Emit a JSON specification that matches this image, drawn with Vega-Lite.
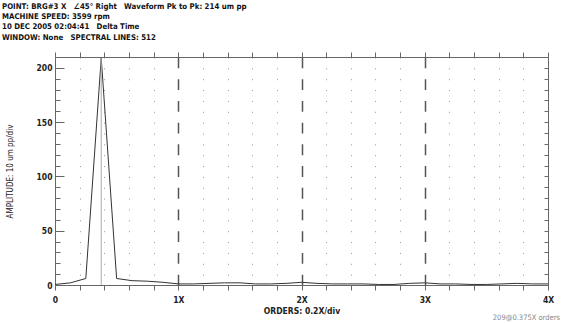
{
  "$schema": "https://vega.github.io/schema/vega-lite/v6.json",
  "width": 493,
  "height": 228,
  "autosize": "none",
  "padding": {"left": 55, "top": 57, "right": 14, "bottom": 38},
  "background": "white",
  "config": {"font": "DejaVu Sans Condensed, Liberation Sans, sans-serif", "view": {"stroke": null}},
  "title": {
    "text": [
      "POINT: BRG#3 X\u00a0\u00a0\u00a0∠45° Right\u00a0\u00a0\u00a0Waveform Pk to Pk: 214 um pp",
      "MACHINE SPEED: 3599 rpm",
      "10 DEC 2005 02:04:41\u00a0\u00a0\u00a0Delta Time",
      "WINDOW: None\u00a0\u00a0\u00a0SPECTRAL LINES: 512"
    ],
    "anchor": "start",
    "frame": "group",
    "dx": -53,
    "offset": 10,
    "fontSize": 7.8,
    "fontWeight": "bold",
    "lineHeight": 10.3,
    "color": "#111"
  },
  "datasets": {
    "spectrum": [
      {"order": 0, "amplitude": 0.5},
      {"order": 0.125, "amplitude": 2},
      {"order": 0.25, "amplitude": 6},
      {"order": 0.375, "amplitude": 209},
      {"order": 0.5, "amplitude": 6},
      {"order": 0.625, "amplitude": 4},
      {"order": 0.75, "amplitude": 3.5},
      {"order": 0.875, "amplitude": 2.5},
      {"order": 1.0, "amplitude": 1},
      {"order": 1.125, "amplitude": 1},
      {"order": 1.25, "amplitude": 1.5},
      {"order": 1.375, "amplitude": 2},
      {"order": 1.5, "amplitude": 2},
      {"order": 1.625, "amplitude": 1},
      {"order": 1.75, "amplitude": 1},
      {"order": 1.875, "amplitude": 1.5},
      {"order": 2.0, "amplitude": 2.5},
      {"order": 2.125, "amplitude": 1.5},
      {"order": 2.25, "amplitude": 1},
      {"order": 2.375, "amplitude": 1},
      {"order": 2.5, "amplitude": 1},
      {"order": 2.625, "amplitude": 0.5},
      {"order": 2.75, "amplitude": 0.5},
      {"order": 2.875, "amplitude": 1.5},
      {"order": 3.0, "amplitude": 2},
      {"order": 3.125, "amplitude": 1},
      {"order": 3.25, "amplitude": 1},
      {"order": 3.375, "amplitude": 0.5},
      {"order": 3.5, "amplitude": 0.5},
      {"order": 3.625, "amplitude": 1},
      {"order": 3.75, "amplitude": 1.5},
      {"order": 3.875, "amplitude": 1},
      {"order": 4.0, "amplitude": 1}
    ],
    "cursor": [{"order": 0.375, "amplitude": 209, "base": 0}],
    "readout": [{"order": 4, "level": 0, "label": "209@0.375X orders"}]
  },
  "layer": [
    {
      "data": {"name": "spectrum"},
      "mark": {"type": "line", "color": "#333", "strokeWidth": 1, "clip": true},
      "encoding": {
        "x": {
          "field": "order",
          "type": "quantitative",
          "scale": {"domain": [0, 4], "nice": false, "zero": false},
          "axis": {
            "orient": "bottom",
            "values": [0, 0.2, 0.4, 0.6, 0.8, 1, 1.2, 1.4, 1.6, 1.8, 2, 2.2, 2.4, 2.6, 2.8, 3, 3.2, 3.4, 3.6, 3.8, 4],
            "labelExpr": "datum.value === 0 ? '0' : (abs(datum.value - round(datum.value)) < 0.000001 ? round(datum.value) + 'X' : '')",
            "labelFontSize": 8.5,
            "labelFontWeight": "bold",
            "labelColor": "#222",
            "labelPadding": 5,
            "labelFlush": false,
            "labelOverlap": false,
            "tickSize": 5,
            "tickColor": "#666",
            "domainColor": "#666",
            "grid": true,
            "gridDash": {"condition": {"test": "abs(datum.value - round(datum.value)) < 0.000001", "value": [10.857, 10.857]}, "value": [1, 9.857]},
            "gridColor": {"condition": {"test": "abs(datum.value - round(datum.value)) < 0.000001", "value": "#555"}, "value": "#999"},
            "gridWidth": {"condition": {"test": "abs(datum.value - round(datum.value)) < 0.000001", "value": 1.5}, "value": 1},
            "gridOpacity": {"condition": {"test": "datum.value === 0 || datum.value === 4", "value": 0}, "value": 1},
            "title": "ORDERS: 0.2X/div",
            "titleFontSize": 8.5,
            "titleFontWeight": "bold",
            "titleColor": "#222",
            "titlePadding": 3
          }
        },
        "y": {
          "field": "amplitude",
          "type": "quantitative",
          "scale": {"domain": [0, 210], "nice": false},
          "axis": {
            "orient": "left",
            "values": [0, 10, 20, 30, 40, 50, 60, 70, 80, 90, 100, 110, 120, 130, 140, 150, 160, 170, 180, 190, 200],
            "labelExpr": "datum.value % 50 === 0 ? datum.label : ''",
            "labelFontSize": 8.5,
            "labelFontWeight": "bold",
            "labelColor": "#222",
            "labelPadding": 12,
            "tickSize": {"condition": {"test": "datum.value % 50 === 0", "value": -9}, "value": -5},
            "tickColor": "#666",
            "domainColor": "#666",
            "grid": false,
            "title": "AMPLITUDE: 10 um pp/div",
            "titleFontSize": 8,
            "titleFontWeight": "normal",
            "titleColor": "#222",
            "titlePadding": 22
          }
        }
      }
    },
    {
      "data": {"name": "cursor"},
      "mark": {"type": "rule", "color": "#aaa", "strokeWidth": 1},
      "encoding": {
        "x": {
          "field": "order",
          "type": "quantitative",
          "axis": {
            "orient": "top",
            "values": [0, 0.2, 0.4, 0.6, 0.8, 1, 1.2, 1.4, 1.6, 1.8, 2, 2.2, 2.4, 2.6, 2.8, 3, 3.2, 3.4, 3.6, 3.8, 4],
            "labels": false,
            "tickSize": 5,
            "tickColor": "#666",
            "domainColor": "#666",
            "grid": false,
            "title": null
          }
        },
        "y": {
          "field": "amplitude",
          "type": "quantitative",
          "axis": {
            "orient": "right",
            "values": [0, 10, 20, 30, 40, 50, 60, 70, 80, 90, 100, 110, 120, 130, 140, 150, 160, 170, 180, 190, 200],
            "labels": false,
            "tickSize": -4,
            "tickColor": "#666",
            "domainColor": "#666",
            "grid": false,
            "title": null
          }
        },
        "y2": {"field": "base"}
      }
    },
    {
      "data": {"name": "readout"},
      "mark": {"type": "text", "align": "right", "baseline": "middle", "dx": 12, "dy": 33, "fontSize": 7.5, "color": "#888"},
      "encoding": {
        "x": {"field": "order", "type": "quantitative", "axis": null},
        "y": {"field": "level", "type": "quantitative", "axis": null},
        "text": {"field": "label"}
      }
    }
  ],
  "resolve": {"axis": {"x": "independent", "y": "independent"}}
}
